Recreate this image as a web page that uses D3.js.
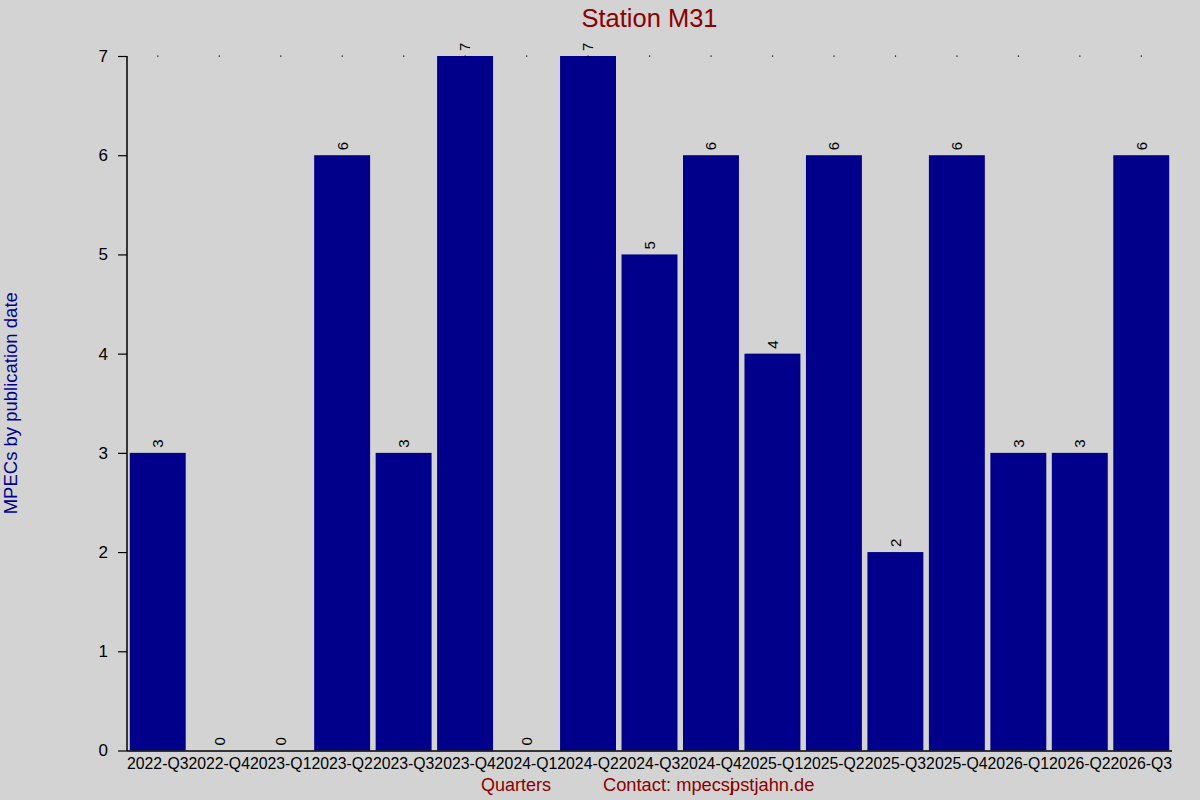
<!DOCTYPE html>
<html>
<head>
<meta charset="utf-8">
<script src="https://cdn.jsdelivr.net/npm/d3@7"></script>
<style>
  body { margin: 0; background: #d3d3d3; }
  text { font-family: "Liberation Sans", Arial, sans-serif; }
</style>
</head>
<body>
<div id="chart"></div>
<script>
// quarters on the x axis
var quarters = ["2022-Q3", "2022-Q4", "2023-Q1", "2023-Q2", "2023-Q3", "2023-Q4",
	"2024-Q1", "2024-Q2", "2024-Q3", "2024-Q4", "2025-Q1", "2025-Q2",
	"2025-Q3", "2025-Q4", "2026-Q1", "2026-Q2", "2026-Q3"];
// MPECs per quarter
var counts = [3, 0, 0, 6, 3, 7, 0, 7, 5, 6, 4, 6, 2, 6, 3, 3, 6];
var yTicks = [0, 1, 2, 3, 4, 5, 6, 7];

var W = 1200, H = 800;
var plotL = 127, plotR = 1172, plotT = 56, plotB = 750.5;

var svg = d3.select("#chart").append("svg")
	.attr("width", W).attr("height", H);

svg.append("rect").attr("width", W).attr("height", H).attr("fill", "#d3d3d3");

var x = d3.scaleBand()
	.domain(quarters)
	.range([plotL, plotR])
	.paddingInner(0.09)
	.paddingOuter(0.045);

var y = d3.scaleLinear()
	.domain([0, 7])
	.range([plotB, plotT]);

// bars
svg.append("g").selectAll("rect")
	.data(counts)
	.enter().append("rect")
	.attr("x", function(d, i) { return x(quarters[i]); })
	.attr("y", function(d) { return y(d); })
	.attr("width", x.bandwidth())
	.attr("height", function(d) { return y(0) - y(d); })
	.attr("fill", "#00008b");

// value labels, rotated
svg.append("g").selectAll("text")
	.data(counts)
	.enter().append("text")
	.attr("transform", function(d, i) {
		return "translate(" + (x(quarters[i]) + x.bandwidth() / 2) + "," + (y(d) - 5) + ") rotate(-90)";
	})
	.attr("dy", "0.36em")
	.style("font-size", "15px")
	.attr("fill", "#000")
	.text(function(d) { return d; });

// y axis
var yAxis = d3.axisLeft(y).tickValues(yTicks).tickSize(9).tickPadding(10).tickFormat(d3.format("d"));
var gy = svg.append("g").attr("transform", "translate(" + plotL + ",0)").call(yAxis);
gy.select(".domain").attr("stroke", "#000").attr("stroke-width", 1.5).attr("d", "M0," + plotT + "V" + (plotB + 0.5));
gy.selectAll(".tick line").attr("stroke", "#000").attr("stroke-width", 1.2);
gy.selectAll(".tick text").style("font-size", "17px").attr("fill", "#000").attr("font-family", null);

// x axis
var xAxis = d3.axisBottom(x).tickSize(0).tickPadding(10);
var gx = svg.append("g").attr("transform", "translate(0," + plotB + ")").call(xAxis);
gx.select(".domain").attr("stroke", "#000").attr("stroke-width", 1.5).attr("d", "M" + plotL + ",0.5H" + plotR);
gx.selectAll(".tick text").style("font-size", "15.8px").attr("fill", "#000").attr("font-family", null).attr("dy", "0.55em");

// small dots along the top (mirrored ticks)
svg.append("g").selectAll("rect")
	.data(quarters)
	.enter().append("rect")
	.attr("x", function(d) { return x(d) + x.bandwidth() / 2 - 0.5; })
	.attr("y", plotT - 0.5)
	.attr("width", 1.2).attr("height", 1.2)
	.attr("fill", "#000");

// title
svg.append("text")
	.attr("x", (plotL + plotR) / 2).attr("y", 27)
	.attr("text-anchor", "middle")
	.style("font-size", "25.5px")
	.attr("fill", "#8b0000")
	.text("Station M31");

// y label
svg.append("text")
	.attr("transform", "translate(17," + ((plotT + plotB) / 2) + ") rotate(-90)")
	.attr("text-anchor", "middle")
	.style("font-size", "18.5px")
	.attr("fill", "#00008b")
	.text("MPECs by publication date");

// x label
svg.append("text")
	.attr("x", 481).attr("y", 791)
	.style("font-size", "18px")
	.attr("fill", "#8b0000")
	.text("Quarters");

// contact line; the original prints a zero width glyph over the "p"
var contact = svg.append("text")
	.attr("x", 603).attr("y", 791)
	.style("font-size", "18.3px")
	.attr("fill", "#8b0000");
contact.append("tspan").text("Contact: mpecs");
var jSpan = contact.append("tspan").text("j");
var jw = jSpan.node().getComputedTextLength();
contact.append("tspan").attr("dx", -jw).text("pstjahn.de");
</script>
</body>
</html>
